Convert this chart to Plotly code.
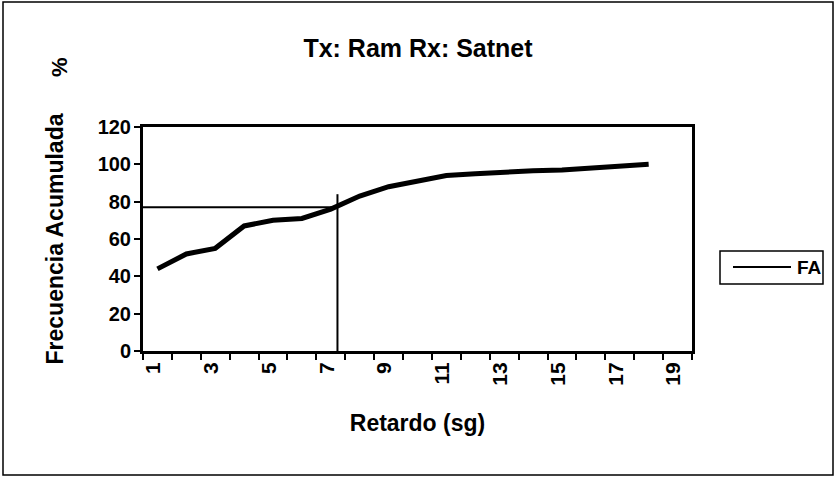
import plotly.graph_objects as go

# Data
retardo = list(range(1, 19))
frec_acum = [44, 52, 55, 67, 70, 71, 76, 83, 88, 91, 94, 95, 96, 96.5, 97, 98, 98.5, 100]
tick_vals = [1, 3, 5, 7, 9, 11, 13, 15, 17, 19]
tick_text = ["1", "3", "5", "7", "9", "11", "13", "15", "17", "19"]
y_ticks = [0, 20, 40, 60, 80, 100, 120]
ref_x = 7.23
ref_y = 77
ref_top = 84
series_name = "FA"

FONT = "Liberation Sans, Arial, sans-serif"
W, H = 836, 478
L, R, T, B = 143, 144, 127, 127
PW, PH = W - L - R, H - T - B


def px(x):
    return (x - L) / PW


def py(y):
    return (H - B - y) / PH


fig = go.Figure()
fig.add_trace(go.Scatter(x=retardo, y=frec_acum, mode="lines", name=series_name,
                         line=dict(color="black", width=5), showlegend=False))
fig.add_trace(go.Scatter(x=[0.5, ref_x], y=[ref_y, ref_y], mode="lines",
                         line=dict(color="black", width=2), showlegend=False, hoverinfo="skip"))
fig.add_trace(go.Scatter(x=[ref_x, ref_x], y=[0, ref_top], mode="lines",
                         line=dict(color="black", width=2), showlegend=False, hoverinfo="skip"))

shapes = [
    # outer chart border
    dict(type="rect", xref="paper", yref="paper", x0=px(3), x1=px(833), y0=py(475), y1=py(2),
         line=dict(color="black", width=1.5)),
    # legend box
    dict(type="rect", xref="paper", yref="paper", x0=px(720), x1=px(823), y0=py(284), y1=py(251),
         line=dict(color="black", width=1.5), fillcolor="white"),
    # legend line sample
    dict(type="line", xref="paper", yref="paper", x0=px(733), x1=px(791), y0=py(267), y1=py(267),
         line=dict(color="black", width=2)),
]

fig.update_layout(
    width=W, height=H,
    margin=dict(l=L, r=R, t=T, b=B),
    paper_bgcolor="white", plot_bgcolor="white",
    font=dict(family=FONT, color="black", size=20),
    title=dict(text="<b>Tx: Ram Rx: Satnet</b>", x=px(418), xanchor="center", xref="paper",
               y=1 - 48 / H, yanchor="middle", font=dict(size=25)),
    showlegend=False,
    shapes=shapes,
)
fig.update_xaxes(range=[0.5, 19.5], tickmode="array", tickvals=tick_vals, ticktext=tick_text,
                 tickangle=-90, ticks="", showgrid=False, zeroline=False,
                 showline=True, linecolor="black", linewidth=3, mirror=True,
                 tickfont=dict(size=21, family=FONT, weight="bold"),
                 ticklabelshift=-4,
                 minor=dict(ticks="outside", tick0=0.5, dtick=1, ticklen=6, tickcolor="black",
                            tickwidth=1.5, showgrid=False),
                 title=dict(text="<b>Retardo (sg)</b>", font=dict(size=23), standoff=31))
fig.update_yaxes(range=[0, 120], tickmode="array", tickvals=y_ticks,
                 ticks="outside", ticklen=6, tickcolor="black", tickwidth=1.5,
                 ticklabelstandoff=-1,
                 showgrid=False, zeroline=False,
                 showline=True, linecolor="black", linewidth=3, mirror=True,
                 tickfont=dict(size=20, family=FONT, weight="bold"),
                 title=dict(text="<b>Frecuencia Acumulada</b>", font=dict(size=23), standoff=28))
fig.add_annotation(text="<b>%</b>", xref="paper", yref="paper", x=px(59), y=py(67),
                   xanchor="center", yanchor="middle",
                   showarrow=False, textangle=-90, font=dict(size=22, family=FONT))
fig.add_annotation(text="<b>" + series_name + "</b>", xref="paper", yref="paper", x=px(795), y=py(267),
                   xanchor="left", yanchor="middle", showarrow=False,
                   font=dict(size=19, family=FONT))

fig.write_html("out.html", config={"displayModeBar": False},
               post_script="document.body.style.margin='0';")
